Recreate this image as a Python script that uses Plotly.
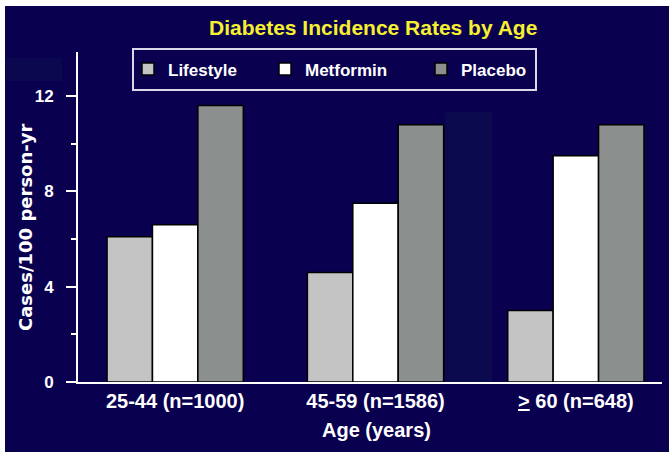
import plotly.graph_objects as go

# Age groups shown on the category axis
age_groups = ["25-44 (n=1000)", "45-59 (n=1586)", "<u>></u> 60 (n=648)"]

# Diabetes incidence, cases per 100 person-years
lifestyle = [6.1, 4.6, 3.0]
metformin = [6.6, 7.5, 9.5]
placebo = [11.6, 10.8, 10.8]

y_tick_values = [0, 4, 8, 12]
y_tick_labels = ["0", "4", "8", "12"]

NAVY = "#0a0050"
FONT = "Liberation Sans, Arial, sans-serif"

# plot area spans x 78..662 px, y 52..382 px
W, H = 669, 452
L, R, T, B = 78, 7, 52, 70
pw, ph = W - L - R, H - T - B


def px_x(px):
    return (px - L) / pw


def px_y(py):
    return (H - B - py) / ph


# name, values, fill colour, legend id, left edge of its legend entry (px)
series = [
    ("Lifestyle", lifestyle, "#c4c4c4", "legend", 128),
    ("Metformin", metformin, "#ffffff", "legend2", 265),
    ("Placebo", placebo, "#8b8f8e", "legend3", 421),
]

fig = go.Figure()
legend_layouts = {}
for name, values, color, legend_id, left in series:
    fig.add_trace(go.Bar(
        x=age_groups, y=values, name=name, legend=legend_id,
        marker=dict(color=color, line=dict(color="#000000", width=1.5)),
    ))
    legend_layouts[legend_id] = dict(
        orientation="h", x=px_x(left), y=px_y(69.5),
        xanchor="left", yanchor="middle",
        bgcolor="rgba(0,0,0,0)", borderwidth=0,
        font=dict(family=FONT, size=17, color="#ffffff", weight="bold"),
    )

shapes = [
    # faint lighter patches in the slide background
    dict(type="rect", xref="paper", yref="paper", layer="below",
         x0=px_x(445), x1=px_x(492), y0=0, y1=px_y(112),
         fillcolor="#0c0a4f", line=dict(width=0)),
    dict(type="rect", xref="paper", yref="paper", layer="below",
         x0=px_x(6), x1=px_x(62), y0=px_y(81), y1=px_y(58),
         fillcolor="#0b084f", line=dict(width=0)),
    # legend frame
    dict(type="rect", xref="paper", yref="paper",
         x0=px_x(133), x1=px_x(536), y0=px_y(90), y1=px_y(49),
         line=dict(color="#d8d8e8", width=2), fillcolor="rgba(0,0,0,0)"),
    # white frame along the top and left edges
    dict(type="rect", xref="paper", yref="paper",
         x0=px_x(0), x1=px_x(5), y0=px_y(H), y1=px_y(0),
         fillcolor="#ffffff", line=dict(width=0)),
    dict(type="rect", xref="paper", yref="paper",
         x0=px_x(0), x1=px_x(W), y0=px_y(6), y1=px_y(0),
         fillcolor="#ffffff", line=dict(width=0)),
]

annotations = [
    dict(text="<b>Diabetes Incidence Rates by Age</b>", xref="paper", yref="paper",
         x=px_x(373), y=px_y(27), xanchor="center", yanchor="middle",
         showarrow=False, font=dict(family=FONT, size=21, color="#f5f030")),
    dict(text="<b>Age (years)</b>", xref="paper", yref="paper",
         x=px_x(376), y=px_y(430), xanchor="center", yanchor="middle",
         showarrow=False, font=dict(family=FONT, size=20, color="#ffffff")),
    dict(text="<b>Cases/100 person-yr</b>", xref="paper", yref="paper",
         x=px_x(25), y=px_y(228), xanchor="center", yanchor="middle",
         textangle=-90, showarrow=False,
         font=dict(family="DejaVu Sans, sans-serif", size=18, color="#ffffff")),
]

fig.update_layout(
    width=W, height=H,
    margin=dict(l=L, r=R, t=T, b=B, autoexpand=False),
    paper_bgcolor=NAVY, plot_bgcolor=NAVY,
    barmode="group", bargap=0.32, bargroupgap=0,
    font=dict(family=FONT, color="#ffffff"),
    showlegend=True,
    shapes=shapes,
    annotations=annotations,
    **legend_layouts,
)

fig.update_xaxes(
    range=[-0.485, 2.43], showline=True, linecolor="#ffffff", linewidth=2,
    ticks="", showgrid=False, zeroline=False,
    tickfont=dict(family=FONT, size=20, color="#ffffff", weight="bold"),
    ticklabelstandoff=0,
)
fig.update_yaxes(
    range=[0, 13.85], showline=True, linecolor="#ffffff", linewidth=2,
    tickvals=y_tick_values, ticktext=y_tick_labels,
    ticks="outside", ticklen=10, tickwidth=1.5, tickcolor="#ffffff",
    minor=dict(dtick=2, tick0=0, ticks="outside", ticklen=5, tickwidth=1.5,
               tickcolor="#ffffff", showgrid=False),
    showgrid=False, zeroline=False,
    tickfont=dict(family=FONT, size=17, color="#ffffff", weight="bold"),
    ticklabelstandoff=9,
)

fig.write_html("out.html")
